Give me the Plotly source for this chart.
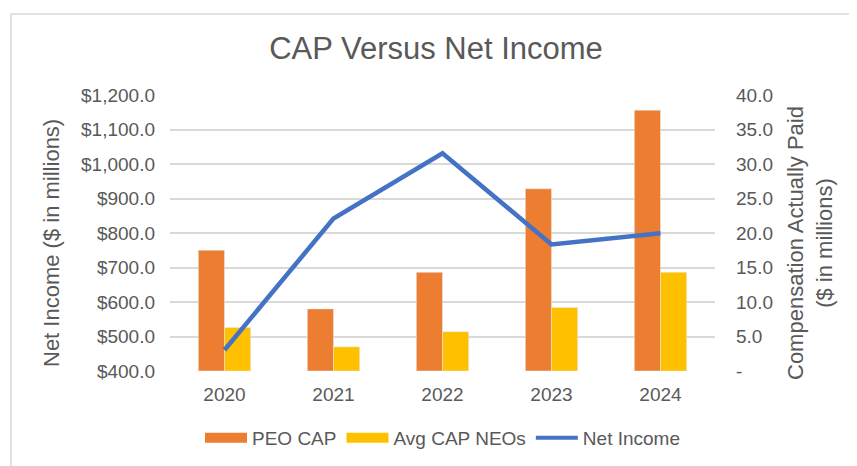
import plotly.graph_objects as go

years = ["2020", "2021", "2022", "2023", "2024"]
peo_cap = [17.5, 9.0, 14.3, 26.4, 37.8]
avg_cap_neos = [6.3, 3.5, 5.7, 9.2, 14.3]
net_income = [461, 842, 1031, 767, 799]

right_ticks = [0, 5, 10, 15, 20, 25, 30, 35, 40]
right_ticktext = ["-", "5.0", "10.0", "15.0", "20.0", "25.0", "30.0", "35.0", "40.0"]

orange = "#ED7D31"
yellow = "#FFC000"
blue = "#4472C4"
font_color = "#595959"
font_family = "Liberation Sans, Arial, sans-serif"

# page body has an 8px margin; work in screen pixels and convert
OFF = 8
SW, SH = 857, 466
W, H = SW - OFF, SH - OFF
# plot area in screen pixels: x 170..715, y 95..371
L, R, T, B = 170, 715, 95, 371
pw, ph = R - L, B - T


def px(x):
    return (x - L) / pw


def py(y):
    return (B - y) / ph


fig = go.Figure()
fig.add_trace(go.Bar(x=years, y=peo_cap, name="PEO CAP", marker_color=orange,
                     yaxis="y", showlegend=False))
fig.add_trace(go.Bar(x=years, y=avg_cap_neos, name="Avg CAP NEOs", marker_color=yellow,
                     yaxis="y", showlegend=False))
fig.add_trace(go.Scatter(x=years, y=net_income, name="Net Income", mode="lines",
                         line=dict(color=blue, width=4.5), yaxis="y2", showlegend=False))

# legend-only entries to mimic wide rectangular swatches
fig.add_trace(go.Scatter(x=[None], y=[None], name="PEO CAP", mode="lines",
                         line=dict(color=orange, width=11), yaxis="y2"))
fig.add_trace(go.Scatter(x=[None], y=[None], name="Avg CAP NEOs", mode="lines",
                         line=dict(color=yellow, width=11), yaxis="y2"))
fig.add_trace(go.Scatter(x=[None], y=[None], name="Net Income", mode="lines",
                         line=dict(color=blue, width=4), yaxis="y2"))

fig.update_layout(
    width=W, height=H,
    margin=dict(l=L - OFF, r=W - (R - OFF), t=T - OFF, b=H - (B - OFF), autoexpand=False),
    paper_bgcolor="white", plot_bgcolor="white",
    font=dict(family=font_family, color=font_color, size=19),
    title=dict(text="CAP Versus Net Income", x=px(436), xref="paper", xanchor="center",
               y=1 - (48 - OFF) / H, yanchor="middle",
               font=dict(size=31, color=font_color)),
    barmode="group", bargap=0.52, bargroupgap=0,
    showlegend=True,
    legend=dict(orientation="h", x=0.5, xanchor="center", y=py(438), yanchor="middle",
                font=dict(size=19, color=font_color), traceorder="normal",
                itemwidth=42, bgcolor="rgba(0,0,0,0)"),
    xaxis=dict(showgrid=False, showline=False, ticks="", tickfont=dict(size=19),
               ticklabelstandoff=10, automargin=False),
    yaxis=dict(side="right", range=[0, 40], tickvals=right_ticks, ticktext=right_ticktext,
               showgrid=True, gridcolor="#D9D9D9", gridwidth=1.5, zeroline=False,
               showline=False, tickfont=dict(size=19), ticklabelstandoff=20,
               automargin=False),
    yaxis2=dict(side="left", overlaying="y", range=[400, 1200], dtick=100,
                tickformat="$,.1f", showgrid=False, zeroline=False, showline=False,
                tickfont=dict(size=19), ticklabelstandoff=14, automargin=False),
)

fig.add_annotation(text="Net Income ($ in millions)", textangle=-90,
                   xref="paper", yref="paper", x=px(52), y=py(243),
                   xanchor="center", yanchor="middle", showarrow=False,
                   font=dict(size=22, color=font_color))
fig.add_annotation(text="Compensation Actually Paid<br>($ in millions)", textangle=-90,
                   xref="paper", yref="paper", x=px(810), y=py(243),
                   xanchor="center", yanchor="middle", showarrow=False,
                   font=dict(size=22, color=font_color))

fig.add_shape(type="rect", xref="paper", yref="paper",
              x0=px(11), x1=px(900), y0=py(520), y1=py(14),
              line=dict(color="#D9D9D9", width=1.5), fillcolor="rgba(0,0,0,0)",
              layer="below")

fig.write_html("out.html")
